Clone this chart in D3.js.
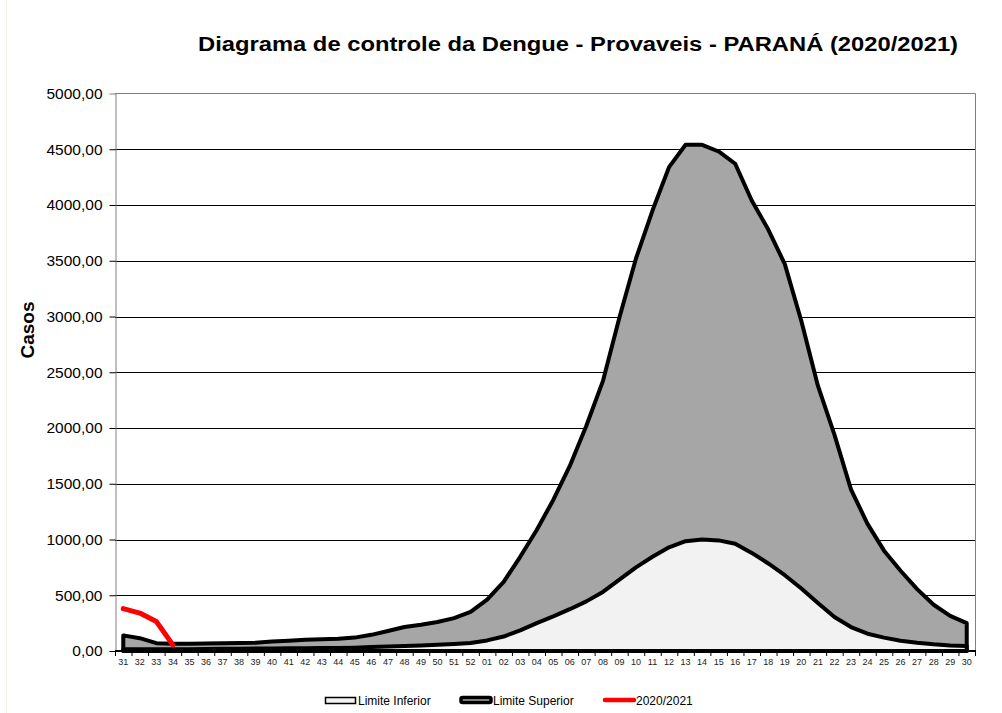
<!DOCTYPE html>
<html>
<head>
<meta charset="utf-8">
<script src="https://cdn.jsdelivr.net/npm/d3@7"></script>
<style>
  body { margin: 0; background: #fff; }
  svg text { font-family: Arial, "Liberation Sans", sans-serif; }
</style>
</head>
<body>
<svg id="chart" width="1002" height="713"></svg>
<script>
// Semanas epidemiologicas 31/2020 .. 30/2021
const weeks = ['31','32','33','34','35','36','37','38','39','40','41','42','43','44','45','46','47','48','49','50','51','52',
  '01','02','03','04','05','06','07','08','09','10','11','12','13','14','15','16','17','18','19','20','21','22','23','24','25','26','27','28','29','30'];

// Limite Inferior (casos)
const lowerLimit = [15, 15, 15, 15, 15, 18, 20, 20, 22, 22, 24, 25, 26, 28, 30, 35, 40, 45, 50, 55, 62, 72,
  95, 130, 185, 250, 310, 375, 445, 530, 640, 750, 845, 930, 985, 1000, 992, 962, 880, 785, 680, 560, 430, 305, 215, 155, 120, 92, 74, 60, 50, 44];

// Limite Superior (casos)
const upperLimit = [140, 115, 70, 65, 65, 68, 70, 72, 75, 85, 92, 100, 105, 110, 120, 145, 180, 215, 235, 260, 295, 350,
  460, 620, 845, 1085, 1355, 1660, 2020, 2420, 2990, 3520, 3950, 4340, 4540, 4540, 4480, 4370, 4040, 3780, 3470, 2960, 2380, 1940, 1450, 1140, 900, 720, 555, 415, 315, 250];

// 2020/2021 casos provaveis
const current = [380, 340, 265, 55];

const yTicks = [0, 500, 1000, 1500, 2000, 2500, 3000, 3500, 4000, 4500, 5000];

const plotLeft = 115, plotRight = 975, plotTop = 93.5, plotBottom = 651;

const svg = d3.select('#chart');

// faint outer chart border
svg.append('line')
    .attr('x1', 6.5).attr('x2', 6.5).attr('y1', 0).attr('y2', 713)
    .attr('stroke', '#eef3e8');

const x = d3.scaleBand().domain(weeks).range([plotLeft, plotRight]);
const cx = d => x(d) + x.bandwidth() / 2;
const y = d3.scaleLinear().domain([0, 5000]).range([plotBottom, plotTop]);

// gridlines
svg.append('g')
    .selectAll('line')
    .data(yTicks.filter(d => d > 0 && d < 5000))
    .join('line')
    .attr('x1', plotLeft).attr('x2', plotRight)
    .attr('y1', d => Math.round(y(d)) + 0.5)
    .attr('y2', d => Math.round(y(d)) + 0.5)
    .attr('stroke', '#000')
    .attr('stroke-width', 1);

// plot border (top, right)
svg.append('path')
    .attr('d', 'M' + plotLeft + ',' + plotTop + 'H' + (plotRight + 0.5) + 'V' + plotBottom)
    .attr('fill', 'none')
    .attr('stroke', '#808080');

const limitArea = d3.area()
    .x((d, i) => cx(weeks[i]))
    .y0(y(0))
    .y1(d => y(d));

svg.append('path')
    .datum(upperLimit)
    .attr('d', limitArea)
    .attr('fill', '#a6a6a6')
    .attr('stroke', '#000')
    .attr('stroke-width', 4)
    .attr('stroke-linejoin', 'round');

svg.append('path')
    .datum(lowerLimit)
    .attr('d', limitArea)
    .attr('fill', '#f2f2f2')
    .attr('stroke', '#000')
    .attr('stroke-width', 4)
    .attr('stroke-linejoin', 'round');

// red line 2020/2021
svg.append('path')
    .datum(current)
    .attr('d', d3.line().x((d, i) => cx(weeks[i])).y(d => y(d)))
    .attr('fill', 'none')
    .attr('stroke', '#ff0000')
    .attr('stroke-width', 5)
    .attr('stroke-linecap', 'round')
    .attr('stroke-linejoin', 'round');

// y axis
const yAxis = svg.append('g')
    .attr('transform', 'translate(' + (plotLeft + 0.5) + ',0)')
    .call(d3.axisLeft(y).tickValues(yTicks).tickSize(6).tickPadding(7)
        .tickFormat(d => d3.format('.2f')(d).replace('.', ',')));
yAxis.select('.domain').attr('stroke', '#808080');
yAxis.selectAll('.tick line').attr('stroke', '#000');
yAxis.selectAll('.tick').filter(d => d === 5000).select('line').remove();
yAxis.selectAll('text')
    .attr('font-size', 15.5)
    .attr('font-family', 'Arial, "Liberation Sans", sans-serif')
    .attr('fill', '#000');

// x axis
svg.append('line')
    .attr('x1', plotLeft).attr('x2', plotRight + 1)
    .attr('y1', plotBottom).attr('y2', plotBottom)
    .attr('stroke', '#000').attr('stroke-width', 2);

svg.append('g')
    .selectAll('line')
    .data(weeks.concat(['end']))
    .join('line')
    .attr('x1', d => (d === 'end' ? plotRight : x(d)) + 0.5)
    .attr('x2', d => (d === 'end' ? plotRight : x(d)) + 0.5)
    .attr('y1', plotBottom).attr('y2', plotBottom + 5)
    .attr('stroke', '#000');

svg.append('g')
    .selectAll('text')
    .data(weeks)
    .join('text')
    .attr('x', d => cx(d))
    .attr('y', plotBottom + 14)
    .attr('text-anchor', 'middle')
    .attr('font-size', 9)
    .attr('fill', '#222')
    .text(d => d);

// title
svg.append('text')
    .attr('x', 578).attr('y', 51)
    .attr('text-anchor', 'middle')
    .attr('font-size', 20)
    .attr('font-weight', 'bold')
    .attr('textLength', 760)
    .attr('lengthAdjust', 'spacingAndGlyphs')
    .text('Diagrama de controle da Dengue - Provaveis - PARANÁ (2020/2021)');

// y title
svg.append('text')
    .attr('transform', 'translate(34,330) rotate(-90)')
    .attr('text-anchor', 'middle')
    .attr('font-size', 19)
    .attr('font-weight', 'bold')
    .text('Casos');

// legend
const legend = svg.append('g');
legend.append('rect')
    .attr('x', 325.5).attr('y', 697.5).attr('width', 30).attr('height', 6)
    .attr('fill', '#f2f2f2').attr('stroke', '#000').attr('stroke-width', 1.5);
legend.append('text').attr('x', 358).attr('y', 705).attr('font-size', 12).text('Limite Inferior');

legend.append('rect')
    .attr('x', 461).attr('y', 697.5).attr('width', 30).attr('height', 5)
    .attr('rx', 1.5)
    .attr('fill', '#a6a6a6').attr('stroke', '#000').attr('stroke-width', 3.5);
legend.append('text').attr('x', 493).attr('y', 705).attr('font-size', 12).text('Limite Superior');

legend.append('line')
    .attr('x1', 605).attr('x2', 634).attr('y1', 700).attr('y2', 700)
    .attr('stroke', '#ff0000').attr('stroke-width', 4.5).attr('stroke-linecap', 'round');
legend.append('text').attr('x', 636).attr('y', 705).attr('font-size', 12).text('2020/2021');
</script>
</body>
</html>
